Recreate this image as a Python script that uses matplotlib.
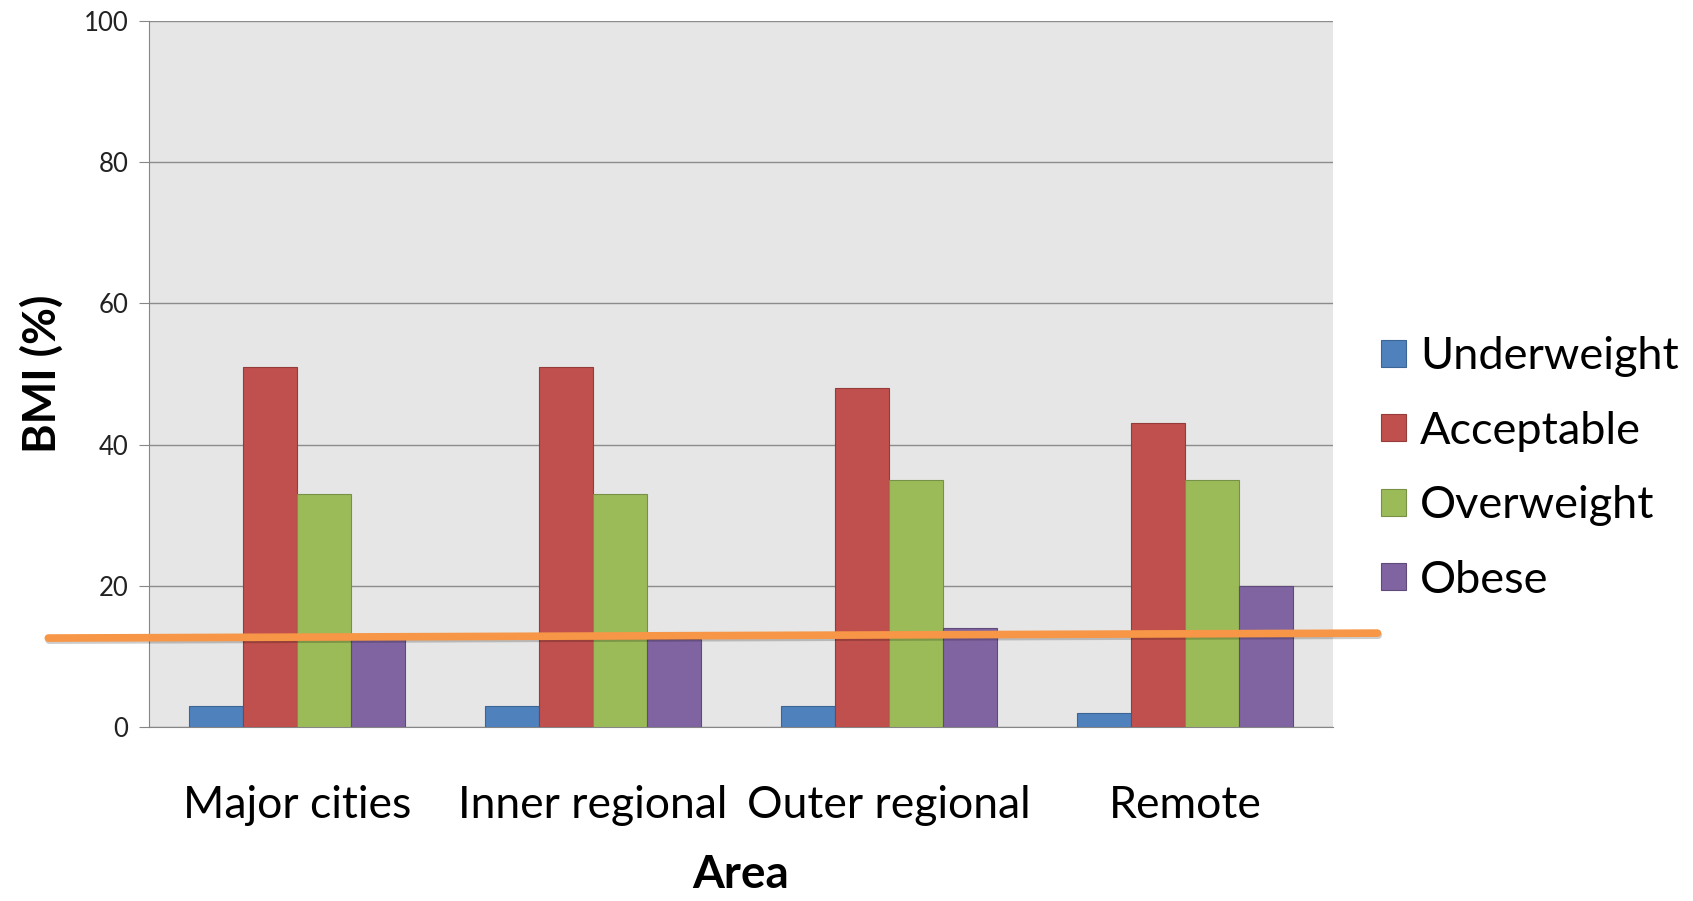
import numpy as np
import matplotlib.pyplot as plt
import matplotlib.patheffects as pe
from matplotlib.patches import Patch

plt.rcParams['font.family'] = ['Lato', 'DejaVu Sans']

areas = ['Major cities', 'Inner regional', 'Outer regional', 'Remote']
groups = ['Underweight', 'Acceptable', 'Overweight', 'Obese']
underweight = [3, 3, 3, 2]
acceptable = [51, 51, 48, 43]
overweight = [33, 33, 35, 35]
obese = [12.4, 12.4, 14, 20]
yticks = [0, 20, 40, 60, 80, 100]

# hand-drawn marker line across the chart (ends in data units)
ref_line_x = [-0.84, 3.65]
ref_line_y = [12.6, 13.3]

colors = ['#4f81bd', '#c0504d', '#9bbb59', '#8064a2']
edges = ['#3a6595', '#953b39', '#779146', '#5f4a7a']

fig = plt.figure(figsize=(16.93, 9.01), dpi=100)
ax = fig.add_axes([0.088, 0.1931, 0.6994, 0.7836])
ax.set_facecolor('#e6e6e6')

x = np.arange(len(areas))
w = 0.183
series = [underweight, acceptable, overweight, obese]
for i, vals in enumerate(series):
    ax.bar(x + (i - 1.5) * w, vals, w, color=colors[i], edgecolor=edges[i],
           linewidth=0.8, zorder=3)

ax.set_xlim(-0.5, 3.5)
ax.set_ylim(0, 100)
ax.set_yticks(yticks)
ax.yaxis.grid(True, color='#8c8c8c', linewidth=1.0, zorder=0)
ax.set_axisbelow(True)

for s in ['top', 'right']:
    ax.spines[s].set_visible(False)
ax.spines['left'].set_color('#868686')
ax.spines['bottom'].set_color('#868686')

ax.set_xticks(x)
ax.set_xticklabels(areas, fontsize=32)
ax.tick_params(axis='x', length=0, pad=42)
ax.tick_params(axis='y', length=7, color='#868686', labelsize=18.5,
               labelcolor='#222222', pad=8)

ax.set_ylabel('BMI (%)', fontsize=32.5, fontweight='bold', labelpad=14)
ax.set_xlabel('Area', fontsize=33, fontweight='bold', labelpad=20)

ax.plot(ref_line_x, ref_line_y, color='#f79646', linewidth=5.5,
        solid_capstyle='round', clip_on=False, zorder=5,
        path_effects=[pe.SimpleLineShadow(offset=(0.5, -1.5), alpha=0.2),
                      pe.Normal()])

handles = [Patch(facecolor=c, edgecolor=e, linewidth=0.8)
           for c, e in zip(colors, edges)]
fig.legend(handles, groups, loc='center left', bbox_to_anchor=(0.792, 0.480),
           frameon=False, fontsize=32.5, handlelength=0.55, handleheight=0.55,
           handletextpad=0.3, labelspacing=0.74)

fig.savefig('out.png', dpi=100)
